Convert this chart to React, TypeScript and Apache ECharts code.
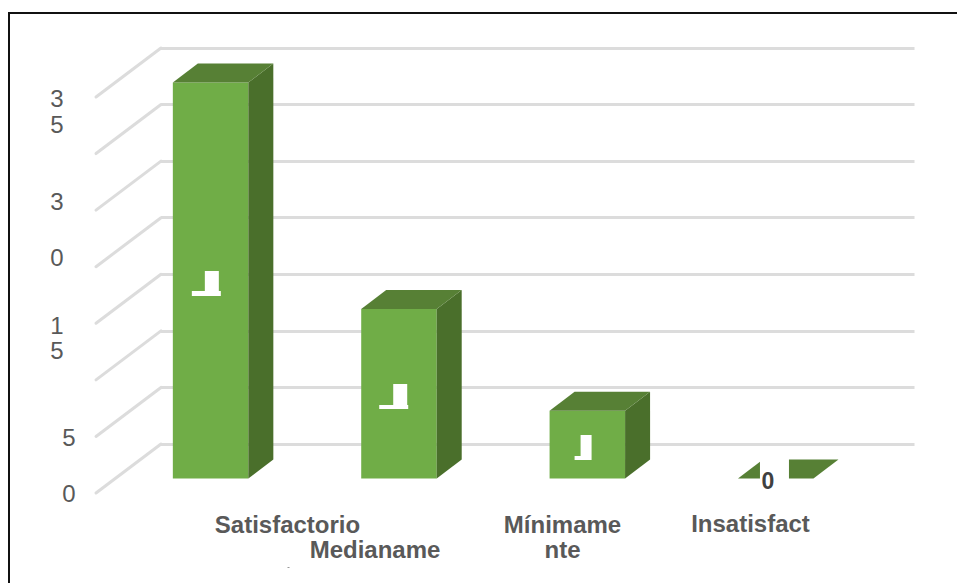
import React, { useEffect, useRef } from "react";
import * as echarts from "echarts";

const categories = ["Satisfactorio", "Medianamente", "Mínimamente", "Insatisfactorio"];
const values = [35, 15, 6, 0];
const yTicks = [0, 5, 10, 15, 20, 25, 30, 35];

// Texts as they appear, clipped and wrapped, in the picture
const yTickLabels = ["0", "5", "1\n5", "0", "3", "3\n5"];
const xTickLabels = ["Satisfactorio", "Medianame", "Mínimame\nnte", "Insatisfact"];
const barLabels = ["", "", "", "0"];

// Layout only
const yLabelAt = [[75.5, 493.5], [75.5, 437], [63.5, 338], [63.5, 257.5], [63.5, 201], [63.5, 111.5]];
const xLabelAt = [[287.5, 524.5], [375, 549.5], [562.5, 537], [750.5, 523.5]];
const WALL_DX = 65, WALL_DY = 49;
const BAR_DX = 44.6, BAR_DY = 34.6;
const DEPTH_X = 25, DEPTH_Y = 19;
const BAR_W = 75.5;
// Opaque white patches: [dx from front-left, dy from bar base, w, h] per bar
const patches = [
  [[32, -207.6, 14, 21], [19, -187.6, 29, 5]],
  [[32, -94.6, 14, 21], [18, -73.6, 29, 4]],
  [[31, -43.6, 11, 21], [25, -22.6, 17, 4]],
  [[22, -19.6, 29, 30]],
];

export default function App() {
  const ref = useRef<HTMLDivElement>(null);
  useEffect(() => {
    const chart = echarts.init(ref.current!, undefined, { renderer: "svg" });
    chart.setOption({
      animation: false,
      backgroundColor: "#fff",
      grid: { left: 161, top: 48, width: 753.5, height: 396, containLabel: false },
      xAxis: {
        type: "category",
        data: categories,
        axisLine: { show: false },
        axisTick: { show: false },
        axisLabel: { show: false },
      },
      yAxis: {
        type: "value",
        min: 0,
        max: 35,
        interval: 5,
        axisLine: { show: false },
        axisTick: { show: false },
        axisLabel: { show: false },
        splitLine: { lineStyle: { color: "#dcdcdc", width: 3 } },
      },
      graphic: [
        { type: "line", shape: { x1: 9, y1: 13, x2: 957, y2: 13 }, style: { stroke: "#111", lineWidth: 2 } },
        { type: "line", shape: { x1: 9, y1: 12, x2: 9, y2: 583 }, style: { stroke: "#111", lineWidth: 2 } },
        { type: "rect", shape: { x: 287.5, y: 567, width: 2, height: 1 }, style: { fill: "#999" } },
        ...yTickLabels.map((t, i) => ({
          type: "text", x: yLabelAt[i][0], y: yLabelAt[i][1], z: 5,
          style: { text: t, fill: "#595959", font: '24px "Liberation Sans"', lineHeight: 25.5, align: "right", verticalAlign: "middle" },
        })),
        ...xTickLabels.map((t, i) => ({
          type: "text", x: xLabelAt[i][0], y: xLabelAt[i][1], z: 5,
          style: { text: t, fill: "#595959", font: 'bold 24px "Liberation Sans"', lineHeight: 25, align: "center", verticalAlign: "middle" },
        })),
      ],
      series: [
        {
          type: "custom",
          coordinateSystem: "cartesian2d",
          data: yTicks.map((v) => [0, v]),
          encode: { x: 0, y: 1 },
          silent: true,
          z: 1,
          renderItem: (_p: any, api: any) => {
            const p = api.coord([0, api.value(1)]);
            const x0 = _p.coordSys.x;
            return {
              type: "line",
              shape: { x1: x0 - WALL_DX, y1: p[1] + WALL_DY, x2: x0, y2: p[1] },
              style: { stroke: "#dcdcdc", lineWidth: 3, lineCap: "round" },
            };
          },
        },
        {
          type: "custom",
          coordinateSystem: "cartesian2d",
          data: values.map((v, i) => [i, v]),
          encode: { x: 0, y: 1 },
          z: 3,
          renderItem: (_p: any, api: any) => {
            const i = api.value(0);
            const top = api.coord([i, api.value(1)]);
            const base = api.coord([i, 0]);
            const xl = top[0] - BAR_DX - BAR_W / 2;
            const xr = xl + BAR_W;
            const yt = top[1] + BAR_DY;
            const yb = base[1] + BAR_DY;
            const children: any[] = [];
            if (yb - yt > 0.5) {
              children.push({
                type: "rect",
                shape: { x: xl, y: yt, width: BAR_W, height: yb - yt },
                style: { fill: "#70ad47" },
              });
              children.push({
                type: "polygon",
                shape: { points: [[xr, yt], [xr + DEPTH_X, yt - DEPTH_Y], [xr + DEPTH_X, yb - DEPTH_Y], [xr, yb]] },
                style: { fill: "#4a6f2b" },
              });
            }
            children.push({
              type: "polygon",
              shape: { points: [[xl, yt], [xl + DEPTH_X, yt - DEPTH_Y], [xr + DEPTH_X, yt - DEPTH_Y], [xr, yt]] },
              style: { fill: "#578035" },
            });
            for (const r of patches[i]) {
              children.push({
                type: "rect",
                shape: { x: xl + r[0], y: yb + r[1], width: r[2], height: r[3] },
                style: { fill: "#fff" },
              });
            }
            if (barLabels[i]) {
              children.push({
                type: "text",
                x: xl + 30,
                y: yb + 2.5,
                style: { text: barLabels[i], fill: "#404040", font: 'bold 23px "Liberation Sans"', align: "center", verticalAlign: "middle" },
              });
            }
            return { type: "group", children };
          },
        },
      ],
    });
    return () => chart.dispose();
  }, []);
  return <div ref={ref} style={{ position: "fixed", left: 0, top: 0, width: 957, height: 583 }} />;
}
